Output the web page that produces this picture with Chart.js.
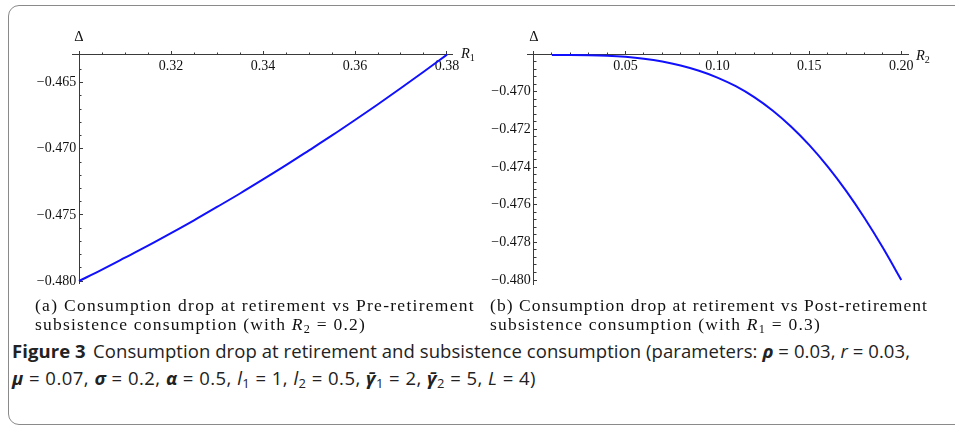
<!DOCTYPE html>
<html>
<head>
<meta charset="utf-8">
<script src="https://cdn.jsdelivr.net/npm/chart.js@4.4.1/dist/chart.umd.min.js"></script>
<style>
  html, body { margin: 0; padding: 0; background: #fff; }
  body { width: 955px; height: 428px; position: relative; overflow: hidden; }
  #frame { position: absolute; left: 8px; top: 5px; width: 990px; height: 420px;
           box-sizing: border-box; border: 1px solid #8a8a8a; border-radius: 11px; }
  canvas { position: absolute; top: 0; }
  #cvPre { left: 0; }
  #cvPost { left: 480px; }
  .axname { position: absolute; font-family: "Liberation Serif", serif; font-size: 14.5px;
            line-height: 1; color: #111; white-space: nowrap; }
  .axname sub, .subcap sub { font-size: 0.7em; font-style: normal; vertical-align: -0.25em; line-height: 0; }
  .subcap { position: absolute; font-family: "Liberation Serif", serif; font-size: 17.5px;
            line-height: 19px; color: #111; white-space: nowrap; }
  .figcap { position: absolute; left: 12px; font-family: "Open Sans", sans-serif; font-size: 18.5px;
            line-height: 27px; color: #222; white-space: nowrap; }
  .figcap sub { font-size: 0.7em; vertical-align: -0.25em; line-height: 0; }
  .figcap .lead { font-weight: 700; margin-right: 0.4em; }
</style>
</head>
<body>
<div id="frame"></div>
<canvas id="cvPre" width="480" height="300"></canvas>
<canvas id="cvPost" width="475" height="300"></canvas>

<div class="axname" style="left:79px;top:36px;transform:translate(-50%,-50%);">Δ</div>
<div class="axname" style="left:534px;top:36px;transform:translate(-50%,-50%);">Δ</div>
<div class="axname" style="left:461px;top:46px;"><i>R</i><sub>1</sub></div>
<div class="axname" style="left:916px;top:47.5px;"><i>R</i><sub>2</sub></div>

<div class="subcap" id="capA1" style="left:35px;top:296px;">(a) Consumption drop at retirement vs Pre-retirement</div>
<div class="subcap" id="capA2" style="left:35px;top:315px;">subsistence consumption (with <i>R</i><sub>2</sub> = 0.2)</div>
<div class="subcap" id="capB1" style="left:490px;top:296px;">(b) Consumption drop at retirement vs Post-retirement</div>
<div class="subcap" id="capB2" style="left:490px;top:315px;">subsistence consumption (with <i>R</i><sub>1</sub> = 0.3)</div>

<div class="figcap" id="fig1" style="top:337px;"><span class="lead">Figure 3</span>Consumption drop at retirement and subsistence consumption (parameters: <b><i>ρ</i></b> = 0.03, <i>r</i> = 0.03,</div>
<div class="figcap" id="fig2" style="top:364px;"><b><i>μ</i></b> = 0.07, <b><i>σ</i></b> = 0.2, <b><i>α</i></b> = 0.5, <i>l</i><sub>1</sub> = 1, <i>l</i><sub>2</sub> = 0.5, <b><i>γ̄</i></b><sub>1</sub> = 2, <b><i>γ̄</i></b><sub>2</sub> = 5, <i>L</i> = 4)</div>

<script>
// Panel (a): consumption drop Δ against pre-retirement subsistence R1 (R2 = 0.2)
const r1Values = [0.300, 0.305, 0.310, 0.315, 0.320, 0.325, 0.330, 0.335, 0.340,
                  0.345, 0.350, 0.355, 0.360, 0.365, 0.370, 0.375, 0.380];
const deltaVsR1 = [-0.48000, -0.47914, -0.47824, -0.47733, -0.47638, -0.47541, -0.47440, -0.47338, -0.47232,
                   -0.47124, -0.47012, -0.46899, -0.46782, -0.46663, -0.46540, -0.46415, -0.46288];

// Panel (b): consumption drop Δ against post-retirement subsistence R2 (R1 = 0.3)
const r2Values = [0.01, 0.02, 0.03, 0.04, 0.05, 0.06, 0.07, 0.08, 0.09, 0.10,
                  0.11, 0.12, 0.13, 0.14, 0.15, 0.16, 0.17, 0.18, 0.19, 0.20];
const deltaVsR2 = [-0.46805, -0.46805, -0.46806, -0.46809, -0.46815, -0.46825, -0.46840, -0.46861, -0.46889, -0.46925,
                   -0.46971, -0.47029, -0.47100, -0.47185, -0.47284, -0.47398, -0.47527, -0.47671, -0.47829, -0.48000];

// Labelled tick marks
const r1Ticks = [0.30, 0.32, 0.34, 0.36, 0.38];
const r1TickLabels = ['', '0.32', '0.34', '0.36', '0.38'];
const deltaATicks = [-0.480, -0.475, -0.470, -0.465];
const deltaATickLabels = ['−0.480', '−0.475', '−0.470', '−0.465'];
const r2Ticks = [0, 0.05, 0.10, 0.15, 0.20];
const r2TickLabels = ['', '0.05', '0.10', '0.15', '0.20'];
const deltaBTicks = [-0.480, -0.478, -0.476, -0.474, -0.472, -0.470];
const deltaBTickLabels = ['−0.480', '−0.478', '−0.476', '−0.474', '−0.472', '−0.470'];

// Unlabelled minor tick marks at a fixed spacing
function stepTicks(from, to, step) {
  const out = [];
  const n = Math.round((to - from) / step);
  for (let i = 0; i <= n; i++) out.push(+(from + i * step).toFixed(6));
  return out;
}

const AXIS = '#3a3a3a';
const TICK_FONT = { family: 'Liberation Serif', size: 14 };

function fixedTicks(values) {
  return (scale) => { scale.ticks = values.map(v => ({ value: v })); };
}

function axisScale(axis, range, at, ticks, tickLen, labels) {
  const s = {
    type: 'linear', axis, bounds: 'data',
    min: range[0], max: range[1],
    position: at,
    afterBuildTicks: fixedTicks(ticks),
    grid: { drawOnChartArea: false, color: AXIS, tickWidth: 1, tickLength: tickLen },
    border: { display: !!labels, color: AXIS, width: 1 },
    ticks: { autoSkip: false, maxRotation: 0, minRotation: 0, display: !!labels,
             font: TICK_FONT, color: '#111', padding: 7 }
  };
  if (labels) {
    s.ticks.callback = axis === 'x'
      ? (v, i) => labels[i]
      : (v, i) => labels[i] + '\u2009';
  }
  return s;
}

function buildPanel(canvas, p) {
  return new Chart(canvas, {
    type: 'line',
    data: {
      datasets: [{
        data: p.xs.map((x, i) => ({ x, y: p.ys[i] })),
        borderColor: '#1010ff', borderWidth: 2, pointRadius: 0,
        cubicInterpolationMode: 'monotone', fill: false,
        xAxisID: 'x', yAxisID: 'y'
      }]
    },
    options: {
      responsive: false, animation: false, devicePixelRatio: 1, events: [],
      layout: { padding: p.padding },
      plugins: { legend: { display: false }, tooltip: { enabled: false }, title: { display: false } },
      scales: {
        x: axisScale('x', p.xRange, { y: p.xAxisAt }, p.xMajor, -4, p.xLabels),
        xMinor: axisScale('x', p.xRange, { y: p.xAxisAt }, p.xMinor, -2.5, null),
        y: axisScale('y', p.yRange, { x: p.yAxisAt }, p.yMajor, -4, p.yLabels),
        yMinor: axisScale('y', p.yRange, { x: p.yAxisAt }, p.yMinor, -2.5, null)
      }
    }
  });
}

buildPanel(document.getElementById('cvPre'), {
  xs: r1Values, ys: deltaVsR1,
  padding: { left: 72, right: 28, top: 51, bottom: 17 },
  xRange: [0.298478, 0.381087], yRange: [-0.480151, -0.462602],
  xAxisAt: -0.4629, yAxisAt: 0.30,
  xMajor: r1Ticks, xLabels: r1TickLabels, xMinor: stepTicks(0.30, 0.38, 0.005),
  yMajor: deltaATicks, yLabels: deltaATickLabels, yMinor: stepTicks(-0.480, -0.464, 0.001)
});

buildPanel(document.getElementById('cvPost'), {
  xs: r2Values, ys: deltaVsR2,
  padding: { left: 47, right: 47, top: 51, bottom: 16 },
  xRange: [-0.003535, 0.203643], yRange: [-0.480212, -0.467839],
  xAxisAt: -0.46805, yAxisAt: 0,
  xMajor: r2Ticks, xLabels: r2TickLabels, xMinor: stepTicks(0, 0.20, 0.01),
  yMajor: deltaBTicks, yLabels: deltaBTickLabels, yMinor: stepTicks(-0.480, -0.4684, 0.0004)
});

// Spread caption lines so each line reaches its measured extent
function spreadTo(el, width) {
  const w = el.getBoundingClientRect().width;
  el.style.letterSpacing = ((width - w) / el.textContent.length) + 'px';
}
const $ = id => document.getElementById(id);
spreadTo($('capA1'), 440);
spreadTo($('capA2'), 331);
spreadTo($('capB1'), 438);
spreadTo($('capB2'), 331);
spreadTo($('fig1'), 898);
spreadTo($('fig2'), 525);
</script>
</body>
</html>
